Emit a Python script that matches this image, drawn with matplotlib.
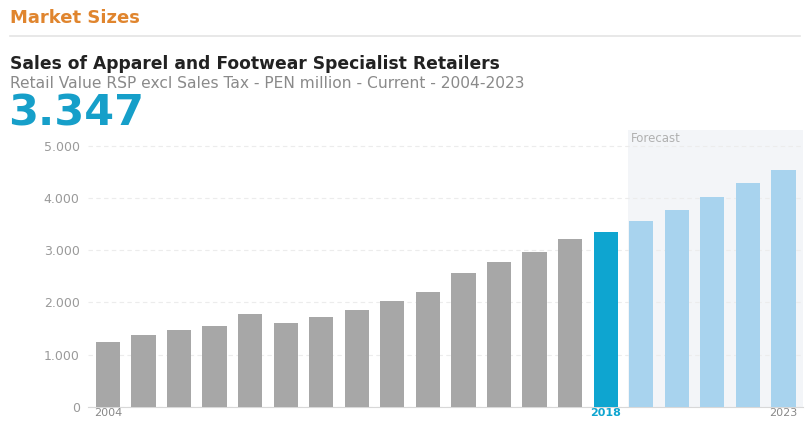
import matplotlib.pyplot as plt
from matplotlib.ticker import FuncFormatter

# data to plot
years = list(range(2004, 2024))
sales = [1235, 1376, 1472, 1555, 1779, 1606, 1725, 1860, 2030, 2210,
         2575, 2770, 2960, 3210, 3347, 3560, 3770, 4020, 4300, 4545]
current_year = 2018
shown_labels = [2004, 2018, 2023]

grey = '#a7a7a7'
blue = '#0ea5d0'
light_blue = '#a8d3ee'

fig = plt.figure(figsize=(8.07, 4.21), dpi=100)

# header texts
fig.text(10 / 807, 1 - 18 / 421, 'Market Sizes', color='#e0852e', fontsize=13,
         fontweight='bold', va='center')
fig.add_artist(plt.Line2D([10 / 807, 800 / 807], [1 - 36 / 421, 1 - 36 / 421],
                          color='#e4e4e4', lw=1.2))
fig.text(10 / 807, 1 - 64 / 421, 'Sales of Apparel and Footwear Specialist Retailers',
         color='#222222', fontsize=12.3, fontweight='bold', va='center')
fig.text(10 / 807, 1 - 84 / 421,
         'Retail Value RSP excl Sales Tax - PEN million - Current - 2004-2023',
         color='#8a8a8a', fontsize=11.2, va='center')
fig.text(8 / 807, 1 - 113 / 421, '3.347', color='#169fc9', fontsize=31,
         fontweight='bold', va='center')

ax = fig.add_axes([88 / 807, 1 - 406.7 / 421, 715 / 807, (406.7 - 130) / 421])

idx = list(range(len(years)))
colors = []
for y in years:
    if y < current_year:
        colors.append(grey)
    elif y == current_year:
        colors.append(blue)
    else:
        colors.append(light_blue)

ax.bar(idx, sales, width=0.68, color=colors, zorder=3)

# forecast area
first_fc = years.index(current_year) + 1
ax.axvspan(first_fc - 0.38, 19.55, color='#f3f5f8', zorder=0, lw=0)
ax.text(first_fc - 0.3, 5150, 'Forecast', color='#b0b0b0', fontsize=8.5, va='center')

ax.set_xlim(-0.56, 19.55)
ax.set_ylim(0, 5310)
ax.set_yticks([0, 1000, 2000, 3000, 4000, 5000])
ax.yaxis.set_major_formatter(FuncFormatter(lambda v, p: f'{int(v):,}'.replace(',', '.')))
ax.grid(axis='y', color='#ececec', linestyle=(0, (4, 3)), lw=0.8, zorder=1)

ax.set_xticks([years.index(y) for y in shown_labels])
ax.set_xticklabels([str(y) for y in shown_labels])
for lbl, y in zip(ax.get_xticklabels(), shown_labels):
    if y == current_year:
        lbl.set_color(blue)
        lbl.set_fontweight('bold')
    else:
        lbl.set_color('#888888')

ax.tick_params(axis='x', length=0, pad=1, labelsize=8)
ax.tick_params(axis='y', length=0, pad=6, labelsize=9, labelcolor='#9a9a9a')
for side in ['top', 'right', 'left']:
    ax.spines[side].set_visible(False)
ax.spines['bottom'].set_color('#d8d8d8')
ax.set_facecolor('none')

plt.savefig('out.png', dpi=100)
